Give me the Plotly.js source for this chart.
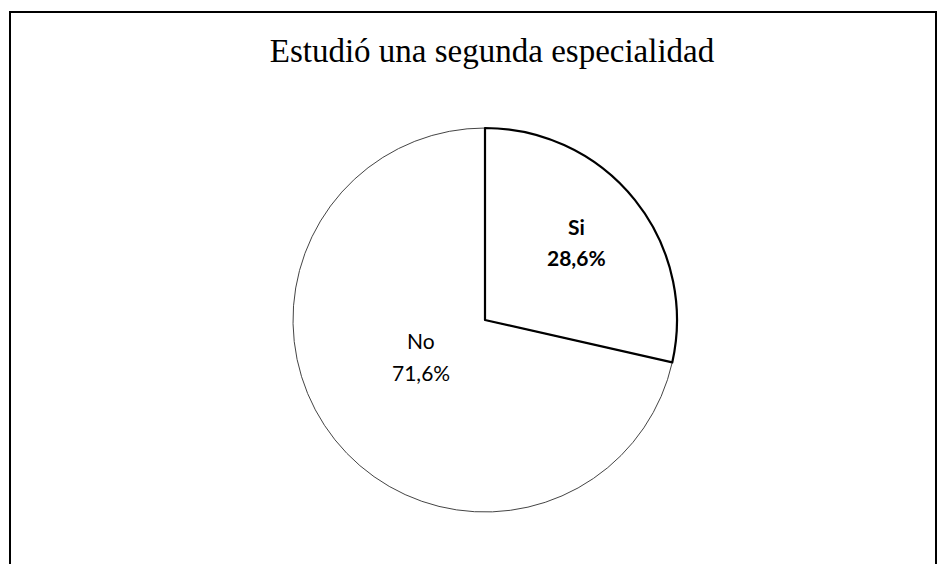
<!DOCTYPE html>
<html>
<head>
<meta charset="utf-8">
<script src="https://cdn.plot.ly/plotly-3.0.1.min.js"></script>
<style>html,body{margin:0;padding:0;background:#fff;}#chart{width:938px;height:564px;}</style>
</head>
<body>
<div id="chart"></div>
<script>
const categories = ["Si", "No"];
const percentages = [28.6, 71.6];
const valueLabels = ["28,6%", "71,6%"];
const chartTitle = "Estudió una segunda especialidad";

const W = 938, H = 564;
const cx = 485, cy = 320, r = 192;

// draw "No" first so that the "Si" slice, with its heavier outline,
// is painted on top of the shared edges; "Si" still starts at 12 o'clock
const order = [1, 0];
const total = percentages.reduce((a, b) => a + b, 0);
const trace = {
  type: "pie",
  labels: order.map(i => categories[i]),
  values: order.map(i => percentages[i]),
  textinfo: "none",
  sort: false,
  direction: "clockwise",
  rotation: 360 * percentages[0] / total,
  hole: 0,
  marker: {
    colors: ["#ffffff", "#ffffff"],
    line: { color: ["#444444", "#000000"], width: [1, 2.2] }
  },
  domain: { x: [(cx - r) / W, (cx + r) / W], y: [(H - cy - r) / H, (H - cy + r) / H] },
  showlegend: false,
  hoverinfo: "label+percent"
};

// label placement (pixel centres) for each slice: [name line, value line]
const labelPos = [
  { x: 576, y1: 226, y2: 257, bold: true },
  { x: 421, y1: 340, y2: 372, bold: false }
];
const annotations = [];
categories.forEach((c, i) => {
  const p = labelPos[i];
  const wrap = s => p.bold ? "<b>" + s + "</b>" : s;
  [[c, p.y1], [valueLabels[i], p.y2]].forEach(([t, y]) => {
    annotations.push({
      text: wrap(t), xref: "paper", yref: "paper",
      x: p.x / W, y: 1 - y / H, xanchor: "center", yanchor: "middle",
      showarrow: false,
      font: { family: "Lato, 'Open Sans', sans-serif", size: 21, color: "#000" }
    });
  });
});

const layout = {
  width: W, height: H,
  margin: { l: 0, r: 0, t: 0, b: 0 },
  paper_bgcolor: "#fff",
  title: {
    text: chartTitle,
    font: { family: "'Liberation Serif', 'DejaVu Serif', serif", size: 33, color: "#000" },
    x: 492 / W, xanchor: "center", y: 1 - 50 / H, yanchor: "middle"
  },
  annotations: annotations,
  shapes: [{
    type: "rect", xref: "paper", yref: "paper",
    x0: 10 / W, x1: 936 / W, y0: -0.05, y1: 1 - 12 / H,
    line: { color: "#000", width: 2 }
  }]
};

Plotly.newPlot("chart", [trace], layout, { displayModeBar: false, staticPlot: true });
</script>
</body>
</html>
